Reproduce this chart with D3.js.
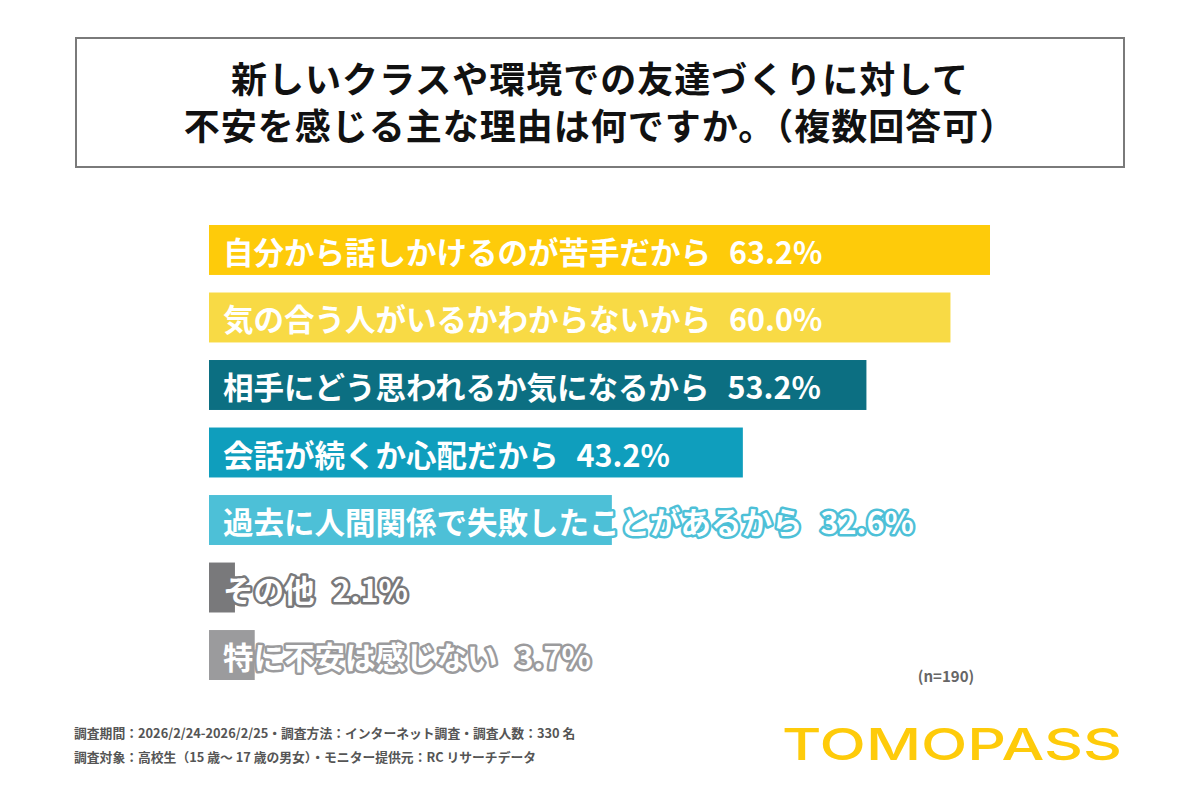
<!DOCTYPE html>
<html>
<head>
<meta charset="utf-8">
<script src="https://cdn.jsdelivr.net/npm/d3@7"></script>
<style>
  body { margin: 0; background: #fff; }
  svg { display: block; font-family: "Noto Sans CJK JP", "Noto Sans", sans-serif; }
</style>
</head>
<body>
<svg id="chart" width="1200" height="800"></svg>
<script>
// data
let categories = [
    "自分から話しかけるのが苦手だから",
    "気の合う人がいるかわからないから",
    "相手にどう思われるか気になるから",
    "会話が続くか心配だから",
    "過去に人間関係で失敗したことがあるから",
    "その他",
    "特に不安は感じない"
];
let values = [63.2, 60.0, 53.2, 43.2, 32.6, 2.1, 3.7];
let bar_colors = ["#fecb0a", "#f8da45", "#0c6f82", "#0f9ebd", "#4dc0d7", "#79797b", "#9b9b9d"];

let title_lines = [
    "新しいクラスや環境での友達づくりに対して",
    "不安を感じる主な理由は何ですか。（複数回答可）"
];
let footer_lines = [
    "調査期間：2026/2/24-2026/2/25・調査方法：インターネット調査・調査人数：330 名",
    "調査対象：高校生（15 歳～ 17 歳の男女）・モニター提供元：RC リサーチデータ"
];
let sample_note = "(n=190)";
let brand = "TOMOPASS";

let svg = d3.select("#chart");

// title box
svg.append("rect")
    .attr("x", 76).attr("y", 38)
    .attr("width", 1048).attr("height", 129)
    .attr("fill", "#fff")
    .attr("stroke", "#7a7a7a")
    .attr("stroke-width", 2);

svg.append("g")
    .selectAll("text")
    .data(title_lines)
    .enter().append("text")
    .attr("x", 600)
    .attr("y", function (d, i) { return 77 + i * 47; })
    .attr("text-anchor", "middle")
    .attr("dominant-baseline", "central")
    .attr("font-size", 36)
    .attr("font-weight", 700)
    .attr("letter-spacing", 1)
    .attr("fill", "#111")
    .text(function (d) { return d; });

// scales
let x = d3.scaleLinear()
    .domain([0, 63.2])
    .range([209, 990]);

let y = d3.scaleBand()
    .domain(categories)
    .range([225, 680])
    .paddingInner(0.26)
    .paddingOuter(0);

let rows = categories.map(function (c, i) {
    return {name: c, value: values[i], color: bar_colors[i]};
});

let bars = svg.append("g")
    .attr("class", "bars")
    .selectAll("g")
    .data(rows)
    .enter().append("g");

bars.append("rect")
    .attr("x", x(0))
    .attr("y", function (d) { return y(d.name); })
    .attr("width", function (d) { return x(d.value) - x(0); })
    .attr("height", y.bandwidth())
    .attr("fill", function (d) { return d.color; });

// labels: white with an outline in the bar colour, so the part past the bar stays readable
let labels = bars.append("text")
    .attr("x", x(0) + 14)
    .attr("y", function (d) { return y(d.name) + y.bandwidth() / 2 + 1; })
    .attr("dominant-baseline", "central")
    .attr("font-size", 30.5)
    .attr("font-weight", 700)
    .attr("fill", "#fff")
    .attr("stroke", function (d) { return d.color; })
    .attr("stroke-width", 5)
    .attr("stroke-linejoin", "round")
    .style("paint-order", "stroke");

labels.append("tspan")
    .text(function (d) { return d.name; });

labels.append("tspan")
    .attr("dx", 18)
    .text(function (d) { return d.value.toFixed(1) + "%"; });

// sample size
svg.append("text")
    .attr("x", 946).attr("y", 675)
    .attr("text-anchor", "middle")
    .attr("dominant-baseline", "central")
    .attr("font-size", 15)
    .attr("font-weight", 700)
    .attr("fill", "#666")
    .text(sample_note);

// footer
svg.append("g")
    .selectAll("text")
    .data(footer_lines)
    .enter().append("text")
    .attr("x", 74)
    .attr("y", function (d, i) { return 732 + i * 24; })
    .attr("dominant-baseline", "central")
    .attr("font-size", 12.8)
    .attr("font-weight", 700)
    .attr("fill", "#555")
    .text(function (d) { return d; });

// logo
svg.append("text")
    .attr("x", 782).attr("y", 760)
    .attr("font-family", "Inter, sans-serif")
    .attr("font-size", 44)
    .attr("font-weight", 500)
    .attr("fill", "#fecb0a")
    .attr("textLength", 340)
    .attr("lengthAdjust", "spacingAndGlyphs")
    .text(brand);
</script>
</body>
</html>
